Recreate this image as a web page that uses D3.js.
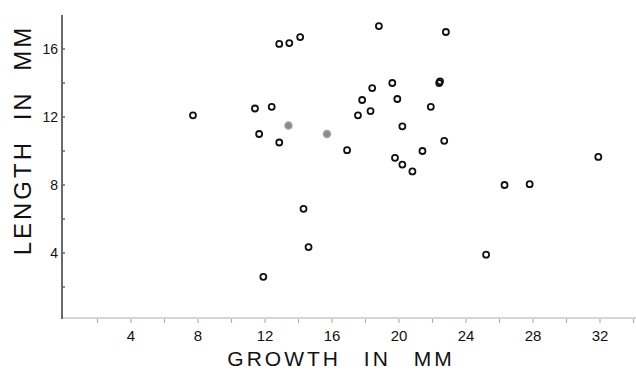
<!DOCTYPE html>
<html>
<head>
<meta charset="utf-8">
<script src="https://cdn.jsdelivr.net/npm/d3@7"></script>
<style>
  body { margin: 0; background: #fff; }
  svg text { font-family: 'Liberation Sans', 'DejaVu Sans', sans-serif; fill: #111; }
</style>
</head>
<body>
<div id="chart"></div>
<script>
// growth (mm) vs length (mm)
const growth = [7.7, 11.4, 12.4, 11.65, 12.85, 12.85, 13.45, 14.1, 18.8, 22.8,
  19.6, 18.4, 17.8, 19.9, 17.55, 18.3, 22.4, 22.45, 21.9, 20.2,
  16.9, 22.7, 21.4, 19.76, 20.2, 20.8, 31.9, 26.3, 27.8, 14.3,
  14.6, 11.9, 25.2]
const length = [12.1, 12.5, 12.6, 11.0, 10.5, 16.3, 16.35, 16.7, 17.35, 17.0,
  14.0, 13.7, 13.0, 13.06, 12.1, 12.35, 14.0, 14.1, 12.6, 11.45,
  10.05, 10.6, 10.0, 9.6, 9.2, 8.8, 9.65, 8.0, 8.05, 6.6,
  4.35, 2.6, 3.9]
// the two shaded points
const shadedGrowth = [13.4, 15.7]
const shadedLength = [11.5, 11.0]

const xTicks = [2, 4, 6, 8, 10, 12, 14, 16, 18, 20, 22, 24, 26, 28, 30, 32, 34]
const xLabels = [4, 8, 12, 16, 20, 24, 28, 32]
const yTicks = [2, 4, 6, 8, 10, 12, 14, 16]
const yLabels = [4, 8, 12, 16]

const render = () => {
  const width = 636
  const height = 371

  const xScale = d3.scaleLinear().domain([0, 34]).range([64, 633.5])
  const yScale = d3.scaleLinear().domain([0, 16]).range([321, 49])

  const svg = d3
    .select('#chart')
    .append('svg')
    .attr('width', width)
    .attr('height', height)

  // x axis (faint)
  const xAxis = svg.append('g').attr('transform', 'translate(0, 318)')
  xAxis
    .append('line')
    .attr('x1', 62)
    .attr('x2', 636)
    .attr('stroke', '#c8c8c8')
    .attr('stroke-width', 1.5)
  xAxis
    .selectAll('.tick')
    .data(xTicks)
    .enter()
    .append('line')
    .attr('x1', (d) => xScale(d))
    .attr('x2', (d) => xScale(d))
    .attr('y1', 1)
    .attr('y2', 5)
    .attr('stroke', '#b0b0b0')
    .attr('stroke-width', 1.2)
  xAxis
    .selectAll('.lbl')
    .data(xLabels)
    .enter()
    .append('text')
    .attr('x', (d) => xScale(d))
    .attr('y', 23)
    .attr('text-anchor', 'middle')
    .style('font-size', '15px')
    .text((d) => d)

  // y axis (dark)
  const yAxis = svg.append('g').attr('transform', 'translate(62, 0)')
  yAxis
    .append('line')
    .attr('y1', 15)
    .attr('y2', 319)
    .attr('stroke', '#6a6a6a')
    .attr('stroke-width', 2)
  yAxis
    .selectAll('.tick')
    .data(yTicks)
    .enter()
    .append('line')
    .attr('x1', -1)
    .attr('x2', 3)
    .attr('y1', (d) => yScale(d))
    .attr('y2', (d) => yScale(d))
    .attr('stroke', '#6a6a6a')
    .attr('stroke-width', 1.5)
  yAxis
    .selectAll('.lbl')
    .data(yLabels)
    .enter()
    .append('text')
    .attr('x', -4)
    .attr('y', (d) => yScale(d) + 5)
    .attr('text-anchor', 'end')
    .style('font-size', '14px')
    .text((d) => d)

  // titles
  svg
    .append('text')
    .attr('x', 341)
    .attr('y', 366)
    .attr('text-anchor', 'middle')
    .style('font-size', '21px')
    .style('letter-spacing', '3px')
    .style('word-spacing', '14px')
    .text('GROWTH IN MM')

  svg
    .append('text')
    .attr('transform', 'translate(31, 140) rotate(-90)')
    .attr('text-anchor', 'middle')
    .style('font-size', '24px')
    .style('letter-spacing', '3px')
    .style('word-spacing', '10px')
    .text('LENGTH IN MM')

  // points
  svg
    .selectAll('.pt')
    .data(d3.range(growth.length))
    .enter()
    .append('circle')
    .attr('cx', (i) => xScale(growth[i]))
    .attr('cy', (i) => yScale(length[i]))
    .attr('r', 3)
    .attr('fill', 'none')
    .attr('stroke', '#111')
    .attr('stroke-width', 1.8)

  svg
    .selectAll('.shaded')
    .data(d3.range(shadedGrowth.length))
    .enter()
    .append('circle')
    .attr('cx', (i) => xScale(shadedGrowth[i]))
    .attr('cy', (i) => yScale(shadedLength[i]))
    .attr('r', 3.5)
    .attr('fill', '#8a8a8a')
    .attr('stroke', '#a0a0a0')
    .attr('stroke-width', 1.5)
}

render()
</script>
</body>
</html>
